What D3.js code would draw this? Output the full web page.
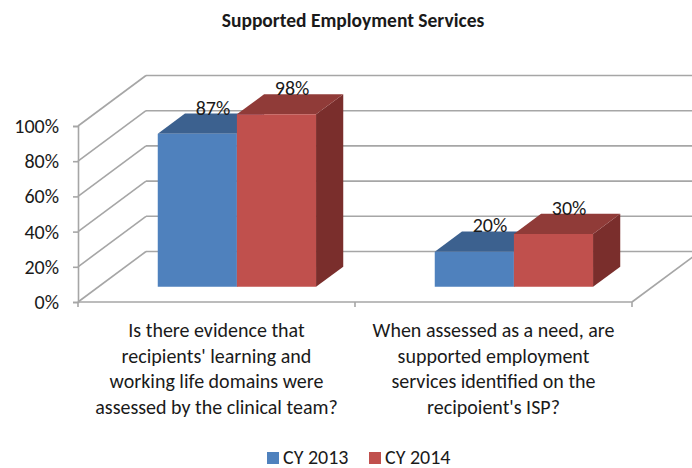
<!DOCTYPE html>
<html>
<head>
<meta charset="utf-8">
<script src="https://cdn.jsdelivr.net/npm/d3@7"></script>
<style>
  html, body { margin: 0; padding: 0; background: #fff; }
  svg { display: block; }
  text { font-family: Calibri, Carlito, Lato, "Noto Sans", sans-serif; fill: #1a1a1a; }
</style>
</head>
<body>
<svg id="chart" width="692" height="468"></svg>
<script>
// Supported Employment Services – 3D clustered columns
const title = "Supported Employment Services";
const categories = ["evidence", "identified"];
const categoryLines = [
  ["Is there evidence that", "recipients' learning and", "working life domains were", "assessed by the clinical team?"],
  ["When assessed as a need, are", "supported employment", "services identified on the", "recipoient's ISP?"]
];
const seriesNames = ["CY 2013", "CY 2014"];
const values2013 = [0.87, 0.20];
const values2014 = [0.98, 0.30];
const yTicks = [0, 0.2, 0.4, 0.6, 0.8, 1.0];

const seriesValues = [values2013, values2014];
const faceColors = [
  { front: "#4F81BD", top: "#3C618F", side: "#2F4D72" },
  { front: "#C0504D", top: "#903B38", side: "#7A2E2C" }
];

const W = 692, H = 468;
const svg = d3.select("#chart");

// Plot frame (front plane) and depth vector
const x0 = 78, x1 = 632, yBase = 302;
const depthDX = 68, depthDY = -50.5;
const barD0 = 0.3, barD1 = 0.7;

const y = d3.scaleLinear().domain([0, 1]).range([0, 176]);
const xCat = d3.scaleBand().domain(categories).range([x0, x1]).padding(0);
const xSer = d3.scaleBand().domain(seriesNames).range([0, xCat.bandwidth()])
  .paddingInner(0).paddingOuter(0.75);

// project (front x, value, depth fraction) to screen
function P(x, v, d) {
  return [x + d * depthDX, yBase - y(v) + d * depthDY];
}
const line = d3.line();

const gridColor = "#A6A6A6";
const grid = svg.append("g").attr("fill", "none").attr("stroke", gridColor).attr("stroke-width", 1.6);

// side wall and back wall gridlines
yTicks.forEach(t => {
  grid.append("path").attr("d", line([P(x0, t, 0), P(x0, t, 1)]));
  grid.append("path").attr("d", line([P(x0, t, 1), P(x1, t, 1)]));
});
// floor front and right edges
grid.append("path").attr("d", line([P(x0, 0, 0), P(x1, 0, 0)]));
grid.append("path").attr("d", line([P(x1, 0, 0), P(x1, 0, 1)]));

// value axis on the front plane
const yAxisScale = d3.scaleLinear().domain([0, 1]).range([yBase, yBase - y(1)]);
const yAxis = svg.append("g").attr("transform", `translate(${x0},0)`)
  .call(d3.axisLeft(yAxisScale).tickValues(yTicks).tickSize(5).tickPadding(14)
    .tickFormat(d3.format(".0%")));
yAxis.select(".domain").attr("stroke", gridColor).attr("stroke-width", 1.6);
yAxis.selectAll(".tick line").attr("stroke", gridColor).attr("stroke-width", 1.6);
yAxis.selectAll(".tick text").attr("font-size", 20).attr("fill", "#1a1a1a")
  .style("font-family", "Calibri, Carlito, Lato, sans-serif");

// category axis tick marks
const catEdges = [x0].concat(categories.map(c => xCat(c) + xCat.bandwidth()));
grid.selectAll(".ctick").data(catEdges).join("path")
  .attr("d", d => line([[d, yBase], [d, yBase + 5]]));

// bars: later series drawn after earlier ones so they cover the shared side
const bars = svg.append("g");
categories.forEach((c, ci) => {
  seriesNames.forEach((s, si) => {
    const v = seriesValues[si][ci];
    const xl = xCat(c) + xSer(s);
    const xr = xl + xSer.bandwidth();
    const col = faceColors[si];
    const g = bars.append("g");
    // side face
    g.append("path").attr("fill", col.side)
      .attr("d", line([P(xr, 0, barD0), P(xr, 0, barD1), P(xr, v, barD1), P(xr, v, barD0)]) + "Z");
    // top face
    g.append("path").attr("fill", col.top)
      .attr("d", line([P(xl, v, barD0), P(xr, v, barD0), P(xr, v, barD1), P(xl, v, barD1)]) + "Z");
    // front face
    g.append("path").attr("fill", col.front)
      .attr("d", line([P(xl, 0, barD0), P(xr, 0, barD0), P(xr, v, barD0), P(xl, v, barD0)]) + "Z");
  });
});

// data labels above each column
const labels = svg.append("g");
categories.forEach((c, ci) => {
  seriesNames.forEach((s, si) => {
    const v = seriesValues[si][ci];
    const xm = xCat(c) + xSer(s) + xSer.bandwidth() / 2;
    const p = P(xm, v, (barD0 + barD1) / 2);
    const back = P(xm, v, barD1);
    labels.append("text")
      .attr("x", p[0] + 2).attr("y", back[1] + 1)
      .attr("text-anchor", "middle").attr("font-size", 20)
      .text(d3.format(".0%")(v));
  });
});

// category labels
const catLabels = svg.append("g");
categories.forEach((c, ci) => {
  const cx = xCat(c) + xCat.bandwidth() / 2;
  const t = catLabels.append("text").attr("text-anchor", "middle").attr("font-size", 20);
  categoryLines[ci].forEach((ln, li) => {
    t.append("tspan").attr("x", cx).attr("y", 337 + li * 25.5).text(ln);
  });
});

// title
svg.append("text").attr("x", 353).attr("y", 27).attr("text-anchor", "middle")
  .attr("font-size", 19.5).attr("font-weight", "bold").text(title);

// legend
const legend = svg.append("g").attr("transform", "translate(267,452)");
const legX = d3.scaleOrdinal().domain(seriesNames).range([0, 102]);
seriesNames.forEach((s, si) => {
  const g = legend.append("g").attr("transform", `translate(${legX(s)},0)`);
  g.append("rect").attr("width", 12).attr("height", 12).attr("fill", faceColors[si].front);
  g.append("text").attr("x", 16).attr("y", 12).attr("font-size", 20).text(s);
});
</script>
</body>
</html>
